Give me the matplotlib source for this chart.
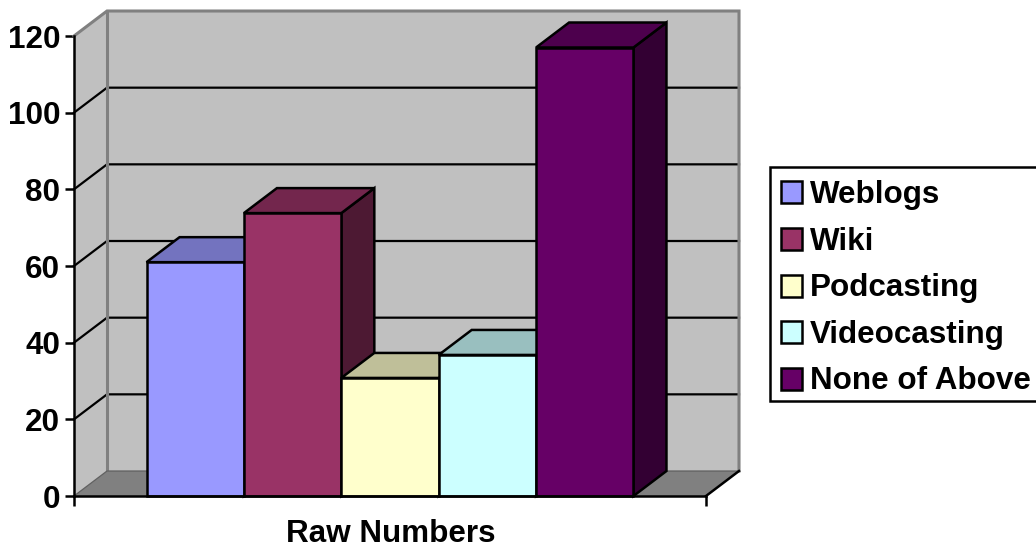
import matplotlib
matplotlib.use("Agg")
import matplotlib.pyplot as plt
from matplotlib.patches import Polygon, Rectangle

categories = ["Weblogs", "Wiki", "Podcasting", "Videocasting", "None of Above"]
values = [61, 73.8, 30.8, 36.8, 117]
front_colors = ["#9999FF", "#993366", "#FFFFCC", "#CCFFFF", "#660066"]
top_colors = ["#7373BF", "#73264D", "#BFBF99", "#99BFBF", "#4D004D"]
side_colors = ["#4D4D80", "#4D1933", "#808066", "#668080", "#330033"]
yticks = [0, 20, 40, 60, 80, 100, 120]
xlabel = "Raw Numbers"

W, H = 1036, 548
FS = 22.6
LW = 1.8
plt.rcParams["font.family"] = ["Liberation Sans", "DejaVu Sans"]
plt.rcParams["font.weight"] = "bold"
fig = plt.figure(figsize=(W / 100, H / 100), dpi=100, facecolor="white")
ax = fig.add_axes([74 / W, 1 - 496 / H, 632 / W, 460 / H])
ax.set_xlim(-0.745, 5.745)
ax.set_ylim(0, 120)
ax.patch.set_visible(False)
for s in ["top", "right"]:
    ax.spines[s].set_visible(False)
for s in ["left", "bottom"]:
    ax.spines[s].set_linewidth(LW)
    ax.spines[s].set_zorder(20)

dx, dy = 0.339, 6.52
x0, x1 = -0.745, 5.745
top = 120
GREY = "#808080"
# walls and floor
ax.add_patch(Polygon([(x0 + dx, dy), (x1 + dx, dy), (x1 + dx, top + dy), (x0 + dx, top + dy)],
                     facecolor="#C0C0C0", edgecolor="none", clip_on=False, zorder=1))
ax.add_patch(Polygon([(x0, 0), (x0 + dx, dy), (x0 + dx, top + dy), (x0, top)],
                     facecolor="#C0C0C0", edgecolor="none", clip_on=False, zorder=1))
for t in yticks[1:-1]:
    ax.plot([x0, x0 + dx, x1 + dx], [t, t + dy, t + dy], color="black", lw=1.6,
            clip_on=False, zorder=2, solid_joinstyle="miter")
# grey wall outline, above the gridlines
ax.plot([x0, x0 + dx, x1 + dx, x1 + dx], [top, top + dy, top + dy, dy], color=GREY, lw=2.2,
        clip_on=False, zorder=3, solid_joinstyle="miter")
ax.plot([x0 + dx, x0 + dx], [dy, top + dy], color=GREY, lw=2.2, clip_on=False, zorder=3)
ax.add_patch(Polygon([(x0, 0), (x1, 0), (x1 + dx, dy), (x0 + dx, dy)], facecolor=GREY,
                     edgecolor="none", clip_on=False, zorder=4))
ax.plot([x0, x0 + dx, x1 + dx], [0, dy, dy], color="#606060", lw=0.9, clip_on=False, zorder=4)
ax.plot([x1, x1 + dx], [0, dy], color="black", lw=LW, clip_on=False, zorder=4)

# bars
kw = dict(clip_on=False, edgecolor="black", linewidth=LW, joinstyle="miter")
for i, (v, f, tc, sc) in enumerate(zip(values, front_colors, top_colors, side_colors)):
    z = 5 + i
    ax.add_patch(Polygon([(i + 1, 0), (i + 1 + dx, dy), (i + 1 + dx, v + dy), (i + 1, v)], facecolor=sc, zorder=z, **kw))
    ax.add_patch(Polygon([(i, v), (i + 1, v), (i + 1 + dx, v + dy), (i + dx, v + dy)], facecolor=tc, zorder=z, **kw))
    ax.add_patch(Rectangle((i, 0), 1, v, facecolor=f, zorder=z + 0.5, **kw))

ax.set_yticks(yticks)
ax.set_xticks([x0, x1])
ax.set_xticklabels(["", ""])
ax.tick_params(axis="y", length=6.5, width=LW, labelsize=FS, pad=3.4)
ax.tick_params(axis="x", length=7.2, width=LW)
fig.text(390.5 / W, 1 - 542 / H, xlabel, ha="center", va="baseline", fontsize=FS, fontweight="bold")

# legend
fig.add_artist(Rectangle((770 / W, 1 - 401 / H), 280 / W, 234 / H, transform=fig.transFigure,
                         facecolor="white", edgecolor="black", linewidth=LW, clip_on=True))
row_y = [192, 239, 285.5, 332, 378.5]
for name, c, y in zip(categories, front_colors, row_y):
    fig.add_artist(Rectangle((780.5 / W, 1 - (y + 11) / H), 21.5 / W, 22 / H, transform=fig.transFigure,
                             facecolor=c, edgecolor="black", linewidth=LW))
    fig.text(810 / W, 1 - (y + 10.5) / H, name, ha="left", va="baseline", fontsize=FS, fontweight="bold")
fig.savefig("out.png", dpi=100)
